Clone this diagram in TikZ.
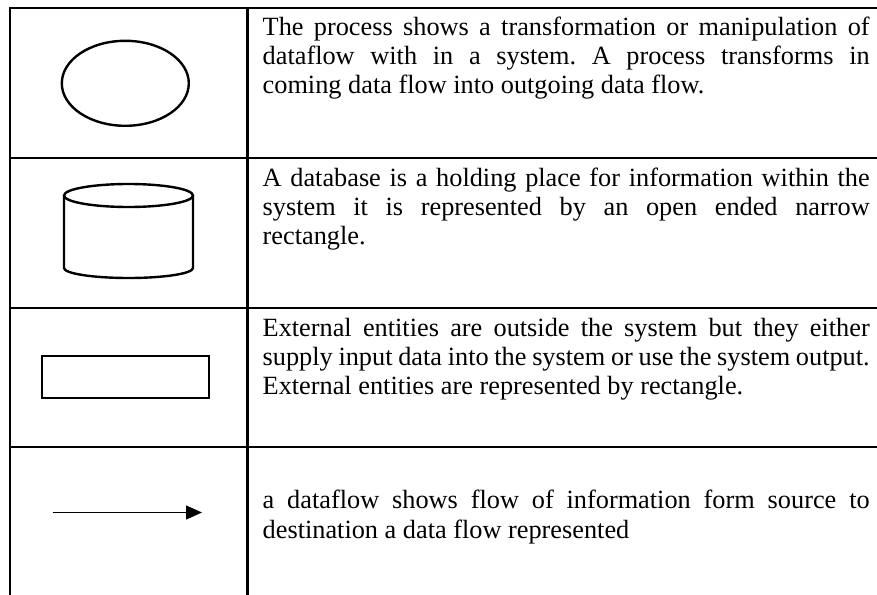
\documentclass[tikz,border=0pt]{standalone}
\usepackage{fontspec}
\setmainfont{Liberation Serif}
\usetikzlibrary{arrows.meta}

% one fully justified line of a description cell
\newlength{\celltextwidth}
\setlength{\celltextwidth}{607bp}
\newcommand{\jline}[1]{\leavevmode\hbox to\celltextwidth{\spaceskip=0pt\xspaceskip=0pt #1}}

\begin{document}
\frenchspacing
\begin{tikzpicture}[x=1bp,y=-1bp,
  rule/.style={line width=2.7bp,line cap=rect},
  symbol/.style={line width=2.4bp},
  desc/.style={anchor=base west,inner sep=0pt,text width=\celltextwidth,align=left,
    font=\fontsize{26.3bp}{29bp}\selectfont,
    execute at begin node={\spaceskip=0pt\xspaceskip=0pt}},
  flowline/.style={line width=1.3bp,-{Triangle[length=16bp,width=14bp]}}]
  \useasboundingbox (0,0) rectangle (877,595);

  % table frame: open at the right and at the bottom
  \draw[rule] (877,8) -- (10,8) -- (10,600);
  \draw[rule] (247.5,8) -- (247.5,600);
  \draw[rule] (10,158) -- (877,158);
  \draw[rule] (10,308) -- (877,308);
  \draw[rule] (10,447) -- (877,447);

  % process
  \draw[symbol] (125.3,83.3) ellipse [x radius=63.5, y radius=42.5];

  % data store (cylinder)
  \draw[symbol] (128.5,195.5) ellipse [x radius=64.5, y radius=11.5];
  \draw[symbol] (64,195.5) -- (64,268)
    arc [start angle=180, end angle=360, x radius=64.5, y radius=-10]
    -- (193,195.5);

  % external entity
  \draw[symbol] (42,356) rectangle (209,398);

  % data flow
  \coordinate (flowA) at (53,512.5);
  \coordinate (flowB) at (202,512.5);
  \draw[flowline] (flowA) -- (flowB);

  % descriptions
  \node[desc] (dprocess) at (262.5,36) {%
    \jline{The process shows a transformation or manipulation of}\\
    \jline{dataflow with in a system. A process transforms in}\\
    coming data flow into outgoing data flow.};
  \node[desc] (dstore) at (262.5,186.5) {%
    \jline{A database is a holding place for information within the}\\
    \jline{system it is represented by an open ended narrow}\\
    rectangle.};
  \node[desc] (dentity) at (262.5,336) {%
    \jline{External entities are outside the system but they either}\\
    \jline{supply input data into the system or use the system output.}\\
    External entities are represented by rectangle.};
  \node[desc,font=\fontsize{26.3bp}{30bp}\selectfont] (dflow) at (262.5,508) {%
    \jline{a dataflow shows flow of information form source to}\\
    destination a data flow represented};
\end{tikzpicture}
\end{document}
